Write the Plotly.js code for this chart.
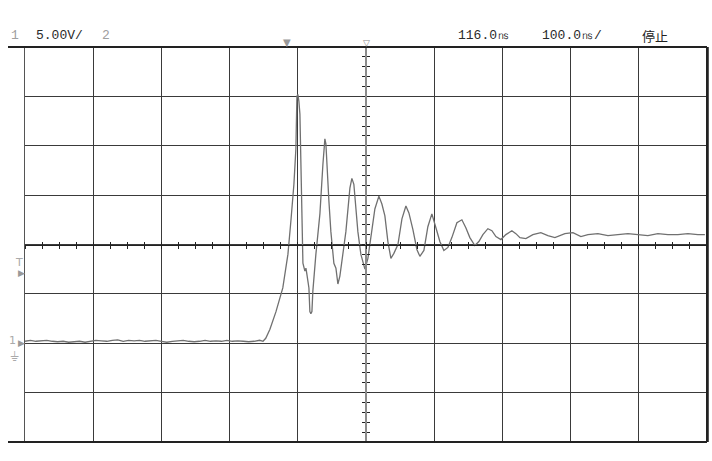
<!DOCTYPE html>
<html>
<head>
<meta charset="utf-8">
<script src="https://cdn.plot.ly/plotly-3.0.1.min.js"></script>
<style>html,body{margin:0;padding:0;background:#fff;}#chart{width:712px;height:461px;}</style>
</head>
<body>
<div id="chart"></div>
<script>
// Channel 1 trace: time in ns (relative to trigger), voltage in V (relative to ch1 ground)
const timeNs = [
  -384,-376,-368,-360,-352,-344,-336,-328,-320,-312,
  -304,-296,-288,-280,-272,-264,-256,-248,-240,-232,
  -224,-216,-208,-200,-192,-184,-176,-168,-160,-152,
  -144,-136,-128,-120,-112,-104,-96,-88,-80,-72,
  -64,-56,-48,-40,
  -35,-31,-25,-16,-6,1.5,5.9,10.3,13.2,14.7,
  16.1,17.6,19.1,20.5,22.0,23.5,26.4,27.9,29.3,32.3,
  33.7,35.2,36.7,38.1,42.5,48.4,52.8,55.7,57.2,58.7,
  61.6,64.5,68.9,71.9,74.8,77.7,82.1,86.5,92.4,95.3,
  98.2,101.2,104.1,108.5,112.9,114.4,118.8,123.2,129.0,134.9,
  139.3,143.7,148.1,152.5,156.9,162.8,168.7,174.5,178.9,184.8,
  190.6,195.0,200.9,206.7,212.6,218.5,224.3,230.2,236.1,241.9,
  249.3,256.6,262.4,268.3,275.6,281.5,287.4,294.7,300.6,306.5,
  313.8,321.1,329.9,335.8,341.7,350.4,360.7,372.4,382.7,393.0,
  397.4,407.6,419.4,431.1,441.4,456.0,470.7,485.4,500.0,514.7,
  529.3,544.0,558.7,573.3,588.0,602.6,612.9
];
const ch1Volts = [
  0.2,0.3,0.2,0.25,0.3,0.2,0.15,0.2,0.1,0.15,
  0.2,0.1,0.2,0.3,0.25,0.2,0.3,0.35,0.2,0.3,
  0.25,0.3,0.2,0.25,0.3,0.2,0.1,0.2,0.25,0.3,
  0.2,0.15,0.2,0.3,0.2,0.25,0.2,0.3,0.2,0.25,
  0.2,0.15,0.2,0.3,
  0.2,0.5,1.4,3.2,5.6,9.0,12.4,16.1,19.7,25.0,
  25.2,24.5,23.2,18.1,13.1,8.1,7.3,7.6,7.0,5.6,
  3.2,3.0,3.2,5.3,9.0,13.1,18.1,20.7,20.2,17.9,
  14.4,11.3,8.1,7.6,6.0,6.8,8.8,11.3,15.7,16.7,
  16.1,13.9,11.3,9.0,7.8,7.5,8.6,10.8,13.6,14.9,
  14.1,12.9,10.3,8.6,9.1,10.0,12.6,13.9,13.2,11.5,
  9.5,8.8,9.4,11.8,13.1,11.7,10.3,9.4,9.7,10.7,
  12.2,12.5,11.7,10.7,9.9,10.3,11.0,11.6,11.4,10.8,
  10.5,11.0,11.4,11.1,10.7,10.6,11.0,11.2,10.9,10.7,
  10.8,11.1,11.2,10.8,11.0,11.1,10.9,11.0,11.1,11.0,
  10.9,11.1,11.0,11.0,11.1,11.0,11.0
];

// Scope settings
const voltsPerDiv = 5;          // 5.00V/
const nsPerDiv = 100;           // 100.0ns/
const delayNs = 116;            // 116.0ns (screen centre)
const ch1OffsetDiv = 2;         // ground marker 2 div below centre
const triggerLevelV = 7.1;
const headerLeft = ["1", "5.00V/", "2"];
const headerRight = ["116.0㎱", "100.0㎱/", "停止"];

const xRange = [delayNs - 5 * nsPerDiv, delayNs + 5 * nsPerDiv];
const yCenter = ch1OffsetDiv * voltsPerDiv;
const yRange = [yCenter - 4 * voltsPerDiv, yCenter + 4 * voltsPerDiv];

const gridCol = '#3a3a3a';
const hdrFont = {family: 'Liberation Mono, DejaVu Sans Mono, monospace', size: 13, color: '#2a2a2a'};
const grayFont = Object.assign({}, hdrFont, {color: '#a0a0a0'});
const cjkFont = {family: 'Noto Sans CJK SC, sans-serif', size: 13, color: '#222'};

const traces = [
  {x: timeNs, y: ch1Volts, type: 'scatter', mode: 'lines', xaxis: 'x', yaxis: 'y',
   line: {color: '#707070', width: 1.3}, hoverinfo: 'skip', showlegend: false},
  {x: [], y: [], type: 'scatter', xaxis: 'x2', yaxis: 'y', showlegend: false, hoverinfo: 'skip'},
  {x: [], y: [], type: 'scatter', xaxis: 'x3', yaxis: 'y', showlegend: false, hoverinfo: 'skip'},
  {x: [], y: [], type: 'scatter', xaxis: 'x', yaxis: 'y2', showlegend: false, hoverinfo: 'skip'},
  {x: [], y: [], type: 'scatter', xaxis: 'x', yaxis: 'y3', showlegend: false, hoverinfo: 'skip'}
];

const centreX = (ticks) => ({
  overlaying: 'x', range: xRange, anchor: 'free', position: 0.5, side: 'bottom',
  showline: true, linecolor: '#222', linewidth: 1, ticks: ticks, ticklen: 3, tickwidth: 1,
  tickcolor: '#222', tick0: xRange[0], dtick: nsPerDiv / 4, showgrid: false,
  showticklabels: false, zeroline: false, fixedrange: true
});
const centreY = (ticks) => ({
  overlaying: 'y', range: yRange, anchor: 'free', position: 0.5, side: 'left',
  showline: true, linecolor: '#8a8a8a', linewidth: 2, ticks: ticks, ticklen: 3, tickwidth: 1,
  tickcolor: '#222', tick0: yRange[0], dtick: voltsPerDiv / 5, showgrid: false,
  showticklabels: false, zeroline: false, fixedrange: true
});

function px2paperX(p) { return (p - 25) / 682; }
function px2paperY(p) { return (442 - p) / 395; }

const annotations = [
  {text: headerLeft[0], xref: 'paper', yref: 'paper', x: px2paperX(15), y: px2paperY(35), xanchor: 'center', yanchor: 'middle', showarrow: false, font: grayFont},
  {text: headerLeft[1], xref: 'paper', yref: 'paper', x: px2paperX(34), y: px2paperY(35), xanchor: 'left', yanchor: 'middle', showarrow: false, font: hdrFont},
  {text: headerLeft[2], xref: 'paper', yref: 'paper', x: px2paperX(106), y: px2paperY(35), xanchor: 'center', yanchor: 'middle', showarrow: false, font: grayFont},
  {text: headerRight[0], xref: 'paper', yref: 'paper', x: px2paperX(456), y: px2paperY(35), xanchor: 'left', yanchor: 'middle', showarrow: false, font: hdrFont},
  {text: headerRight[1], xref: 'paper', yref: 'paper', x: px2paperX(540), y: px2paperY(35), xanchor: 'left', yanchor: 'middle', showarrow: false, font: hdrFont},
  {text: headerRight[2], xref: 'paper', yref: 'paper', x: px2paperX(640), y: px2paperY(35), xanchor: 'left', yanchor: 'middle', showarrow: false, font: cjkFont},
  // trigger time marker and delay marker
  {text: '▼', xref: 'x', yref: 'paper', x: 0, y: 1, xanchor: 'center', yanchor: 'bottom', yshift: -3, showarrow: false, font: {family: 'DejaVu Sans', size: 10, color: '#999'}},
  {text: '▽', xref: 'x', yref: 'paper', x: delayNs, y: 1, xanchor: 'center', yanchor: 'bottom', yshift: -3, showarrow: false, font: {family: 'DejaVu Sans', size: 9, color: '#888'}},
  // trigger level marker
  {text: 'T', xref: 'paper', yref: 'y', x: px2paperX(19), y: triggerLevelV + 1.1, xanchor: 'center', yanchor: 'middle', showarrow: false, font: {family: 'DejaVu Sans', size: 11, color: '#aaa'}},
  {text: '▶', xref: 'paper', yref: 'y', x: px2paperX(21), y: triggerLevelV, xanchor: 'center', yanchor: 'middle', showarrow: false, font: {family: 'DejaVu Sans', size: 9, color: '#999'}},
  // channel 1 ground marker
  {text: '1', xref: 'paper', yref: 'y', x: px2paperX(12), y: 0.3, xanchor: 'center', yanchor: 'middle', showarrow: false, font: {family: 'DejaVu Sans', size: 11, color: '#aaa'}},
  {text: '▶', xref: 'paper', yref: 'y', x: px2paperX(21), y: 0, xanchor: 'center', yanchor: 'middle', showarrow: false, font: {family: 'DejaVu Sans', size: 9, color: '#999'}},
  {text: '⏚', xref: 'paper', yref: 'y', x: px2paperX(14), y: -1.3, xanchor: 'center', yanchor: 'middle', showarrow: false, font: {family: 'DejaVu Sans', size: 13, color: '#aaa'}}
];

const layout = {
  width: 712, height: 461,
  margin: {l: 25, r: 5, t: 47, b: 19, pad: 0},
  paper_bgcolor: '#ffffff', plot_bgcolor: '#ffffff',
  showlegend: false,
  xaxis: {range: xRange, tick0: xRange[0], dtick: nsPerDiv, showgrid: true, gridcolor: gridCol, gridwidth: 1,
          zeroline: false, showticklabels: false, ticks: '', showline: false, fixedrange: true},
  yaxis: {range: yRange, tick0: yRange[0], dtick: voltsPerDiv, showgrid: true, gridcolor: gridCol, gridwidth: 1,
          zeroline: false, showticklabels: false, ticks: '', showline: true, mirror: true,
          linecolor: '#555', linewidth: 1.5, fixedrange: true},
  xaxis2: centreX('outside'),
  xaxis3: centreX('inside'),
  yaxis2: centreY('outside'),
  yaxis3: centreY('inside'),
  shapes: [
    {type: 'line', xref: 'paper', yref: 'paper', x0: px2paperX(8), x1: 1, y0: 1, y1: 1, line: {color: '#222', width: 2}},
    {type: 'line', xref: 'paper', yref: 'paper', x0: px2paperX(8), x1: 1, y0: 0, y1: 0, line: {color: '#222', width: 2}},
    {type: 'line', xref: 'paper', yref: 'paper', x0: 1, x1: 1, y0: 0, y1: 1, line: {color: '#222', width: 2}}
  ],
  annotations: annotations
};

Plotly.newPlot('chart', traces, layout, {staticPlot: true, displayModeBar: false});
</script>
</body>
</html>
